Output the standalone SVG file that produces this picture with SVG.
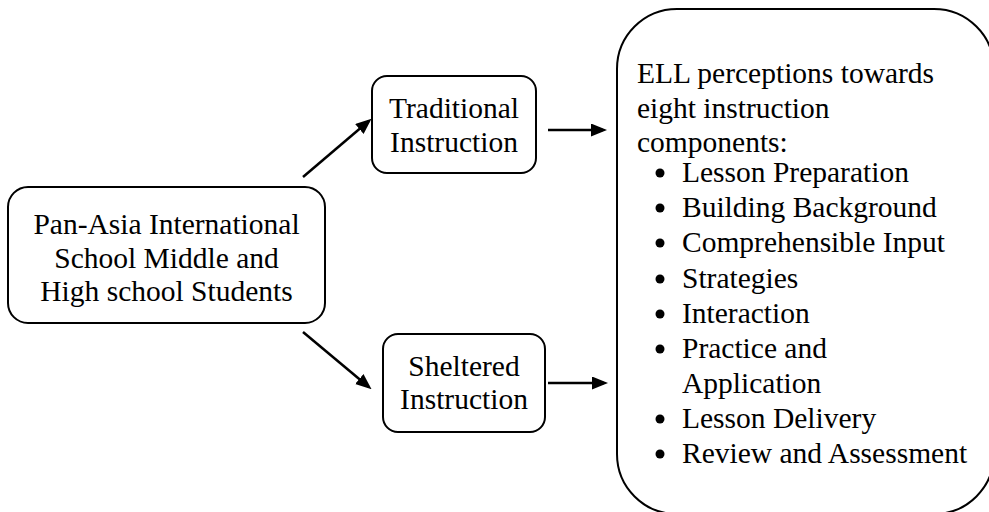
<svg xmlns="http://www.w3.org/2000/svg" width="989" height="512" viewBox="0 0 989 512">
<style>
.box{fill:#fff;stroke:#000;stroke-width:2}
.t{font-family:"Liberation Serif","Times New Roman",serif;font-size:29.5px;fill:#000}
.c{text-anchor:middle}
.conn{stroke:#000;stroke-width:2.5;fill:none}
.b{fill:#000}
</style>
<defs>
<marker id="ah" markerUnits="userSpaceOnUse" markerWidth="16" markerHeight="14" refX="12" refY="6.5" orient="auto">
<path d="M0,0 L16,6.5 L0,13 z" fill="#000"/>
</marker>
</defs>
<rect width="989" height="512" fill="#fff"/>
<g id="connectors">
<line class="conn" x1="303" y1="177" x2="368.5" y2="121.3" marker-end="url(#ah)"/>
<line class="conn" x1="303" y1="332" x2="368.5" y2="386.7" marker-end="url(#ah)"/>
<line class="conn" x1="548" y1="130" x2="603" y2="130" marker-end="url(#ah)"/>
<line class="conn" x1="548" y1="383" x2="604" y2="383" marker-end="url(#ah)"/>
</g>
<g id="students">
<rect class="box" x="8" y="187" width="317" height="136" rx="20"/>
<text class="t c" x="166.5" y="234">Pan-Asia International</text>
<text class="t c" x="166.5" y="267.5">School Middle and</text>
<text class="t c" x="166.5" y="301">High school Students</text>
</g>
<g id="traditional">
<rect class="box" x="372" y="76" width="164" height="97" rx="15"/>
<text class="t c" x="454" y="118">Traditional</text>
<text class="t c" x="454" y="152">Instruction</text>
</g>
<g id="sheltered">
<rect class="box" x="383" y="334" width="162" height="98" rx="15"/>
<text class="t c" x="464" y="376">Sheltered</text>
<text class="t c" x="464" y="409">Instruction</text>
</g>
<g id="perceptions">
<rect class="box" x="617" y="9" width="377" height="505" rx="60"/>
<text class="t" x="637" y="83">ELL perceptions towards</text>
<text class="t" x="637" y="117.5">eight instruction</text>
<text class="t" x="637" y="152">components:</text>
<circle class="b" cx="660" cy="173" r="4.5"/>
<text class="t" x="682" y="182">Lesson Preparation</text>
<circle class="b" cx="660" cy="208" r="4.5"/>
<text class="t" x="682" y="217">Building Background</text>
<circle class="b" cx="660" cy="243" r="4.5"/>
<text class="t" x="682" y="252">Comprehensible Input</text>
<circle class="b" cx="660" cy="279" r="4.5"/>
<text class="t" x="682" y="288">Strategies</text>
<circle class="b" cx="660" cy="314" r="4.5"/>
<text class="t" x="682" y="323">Interaction</text>
<circle class="b" cx="660" cy="349" r="4.5"/>
<text class="t" x="682" y="358">Practice and</text>
<text class="t" x="682" y="393">Application</text>
<circle class="b" cx="660" cy="419" r="4.5"/>
<text class="t" x="682" y="428">Lesson Delivery</text>
<circle class="b" cx="660" cy="454" r="4.5"/>
<text class="t" x="682" y="463">Review and Assessment</text>
</g>
</svg>
